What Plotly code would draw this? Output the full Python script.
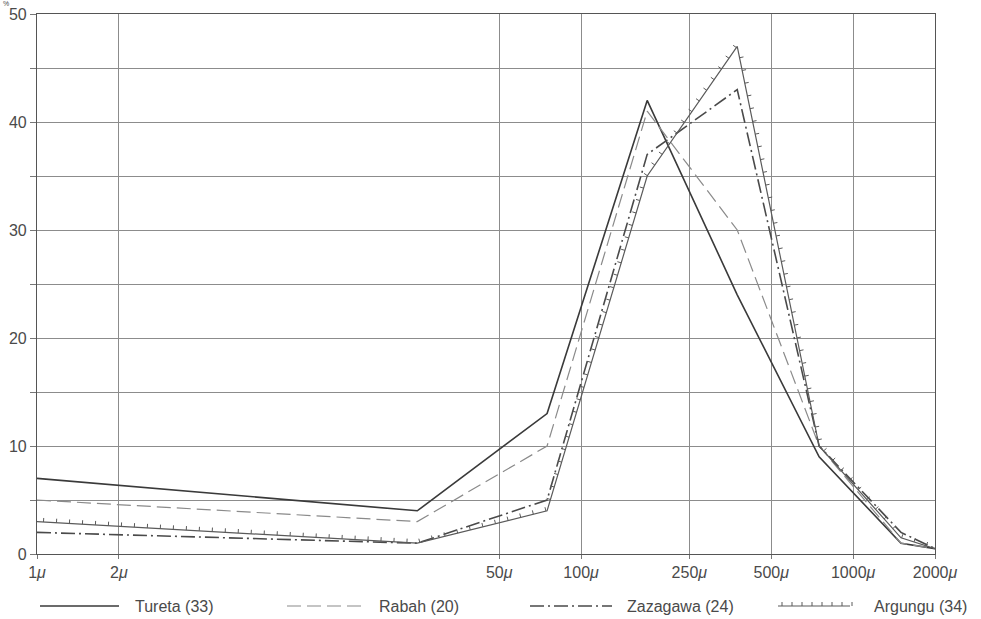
import numpy as np
import plotly.graph_objects as go

# ---- data ----
sizes = [1, 25, 75, 175, 375, 750, 1500, 2000]          # grain size, microns
tureta = [7, 4, 13, 42, 24, 9, 1, 0.5]
rabah = [5, 3, 10, 41, 30, 10, 1, 0.5]
zazagawa = [2, 1, 5, 37, 43, 10, 2, 0.5]
argungu = [3, 1, 4, 35, 47, 10, 1.5, 0.5]

series_names = ["Tureta (33)", "Rabah (20)", "Zazagawa (24)", "Argungu (34)"]
x_tick_vals = [1, 2, 50, 100, 250, 500, 1000, 2000]
x_tick_text = ["1", "2", "50", "100", "250", "500", "1000", "2000"]
y_tick_vals = list(range(0, 55, 5))
y_tick_text = [str(v) if v % 10 == 0 else "" for v in y_tick_vals]

# ---- layout constants (page pixels; body margin removed in post_script) ----
W, H = 981, 619
ML, MT = 37, 14
PW, PH = 898, 540
MR, MB = W - ML - PW, H - MT - PH
XMAX = np.log10(2000)
PX_DEC = PW / XMAX
PX_UNIT = PH / 50.0
FONT = "Liberation Sans, Arial, sans-serif"
TXT = "#4a4a4a"

def to_px(xs, ys):
    px = ML + PX_DEC * np.log10(np.asarray(xs, float))
    py = MT + PH - PX_UNIT * np.asarray(ys, float)
    return px, py

def from_px(px, py):
    return 10 ** ((px - ML) / PX_DEC), (MT + PH - py) / PX_UNIT

def tick_decor(xs, ys, spacing=13.0, length=4.0):
    """Small perpendicular tick marks along a polyline (line style)."""
    px, py = to_px(xs, ys)
    ox, oy = [], []
    carry = spacing / 2
    for i in range(len(px) - 1):
        dx, dy = px[i + 1] - px[i], py[i + 1] - py[i]
        L = np.hypot(dx, dy)
        if L == 0:
            continue
        ux, uy = dx / L, dy / L
        nx, ny = uy, -ux
        s = carry
        while s < L:
            bx, by = px[i] + ux * s, py[i] + uy * s
            x0, y0 = from_px(bx, by)
            x1, y1 = from_px(bx + nx * length, by + ny * length)
            ox += [x0, x1, None]
            oy += [y0, y1, None]
            s += spacing
        carry = s - L
    return ox, oy

fig = go.Figure()

fig.add_trace(go.Scatter(x=sizes, y=tureta, mode="lines", name=series_names[0],
                         line=dict(color="#3a3a3a", width=1.6), hoverinfo="skip"))
fig.add_trace(go.Scatter(x=sizes, y=rabah, mode="lines", name=series_names[1],
                         line=dict(color="#8a8a8a", width=1.2, dash="14px,6px"), hoverinfo="skip"))
fig.add_trace(go.Scatter(x=sizes, y=zazagawa, mode="lines", name=series_names[2],
                         line=dict(color="#4a4a4a", width=1.6, dash="14px,4px,2px,4px"), hoverinfo="skip"))
fig.add_trace(go.Scatter(x=sizes, y=argungu, mode="lines", name=series_names[3],
                         line=dict(color="#5a5a5a", width=1.2), hoverinfo="skip"))
dx, dy = tick_decor(sizes, argungu)
fig.add_trace(go.Scatter(x=dx, y=dy, mode="lines", showlegend=False,
                         line=dict(color="#5a5a5a", width=1), hoverinfo="skip",
                         cliponaxis=False))

# ---- manual legend (long line samples as in the reference), page pixels ----
def pxx(p):
    return (p - ML) / PW

def pxy(p):
    return (MT + PH - p) / PH

LEG_Y = 606
legend_items = [
    (40, 119, 133, dict(color="#3a3a3a", width=1.6)),
    (287, 365, 377, dict(color="#8a8a8a", width=1.2, dash="14px,6px")),
    (530, 612, 625, dict(color="#4a4a4a", width=1.6, dash="14px,4px,2px,4px")),
    (778, 850, 872, dict(color="#5a5a5a", width=1.2)),
]
shapes = []
annotations = []
for (a, b, t, ln), name in zip(legend_items, series_names):
    shapes.append(dict(type="line", xref="paper", yref="paper",
                       x0=pxx(a), x1=pxx(b), y0=pxy(LEG_Y), y1=pxy(LEG_Y), line=ln))
    annotations.append(dict(xref="paper", yref="paper", x=pxx(t), y=pxy(LEG_Y),
                            text=name, showarrow=False, xanchor="left", yanchor="middle",
                            font=dict(family=FONT, size=16, color=TXT)))
# ticks on the Argungu legend sample
for k in range(8):
    p = 782 + k * 10
    shapes.append(dict(type="line", xref="paper", yref="paper",
                       x0=pxx(p), x1=pxx(p), y0=pxy(LEG_Y), y1=pxy(LEG_Y - 4),
                       line=dict(color="#5a5a5a", width=1)))

annotations.append(dict(xref="paper", yref="paper", x=pxx(6), y=pxy(3),
                        text="%", showarrow=False, xanchor="center", yanchor="middle",
                        font=dict(family=FONT, size=7, color=TXT)))

fig.update_layout(
    width=W, height=H,
    margin=dict(l=ML, r=MR, t=MT, b=MB, autoexpand=False),
    paper_bgcolor="white", plot_bgcolor="white",
    showlegend=False,
    shapes=shapes, annotations=annotations,
    font=dict(family=FONT, color=TXT),
    xaxis=dict(type="log", range=[0, XMAX], tickvals=x_tick_vals,
               ticktext=[t + "<i>μ</i>" for t in x_tick_text],
               showgrid=True, gridcolor="#8c8c8c", gridwidth=1,
               showline=True, linecolor="#555", linewidth=1.2, mirror=True,
               ticks="outside", ticklen=4, tickcolor="#777", automargin=False,
               ticklabeloverflow="allow",
               tickfont=dict(family=FONT, size=16, color=TXT), zeroline=False),
    yaxis=dict(range=[0, 50], tickvals=y_tick_vals, ticktext=y_tick_text,
               showgrid=True, gridcolor="#8c8c8c", gridwidth=1,
               showline=True, linecolor="#555", linewidth=1.2, mirror=True,
               ticks="outside", ticklen=6, tickcolor="#777", automargin=False,
               ticklabeloverflow="allow",
               tickfont=dict(family=FONT, size=16, color=TXT), zeroline=False),
)

fig.write_html("out.html", config={"displayModeBar": False},
               post_script="document.body.style.margin='0';document.body.style.padding='0';")
